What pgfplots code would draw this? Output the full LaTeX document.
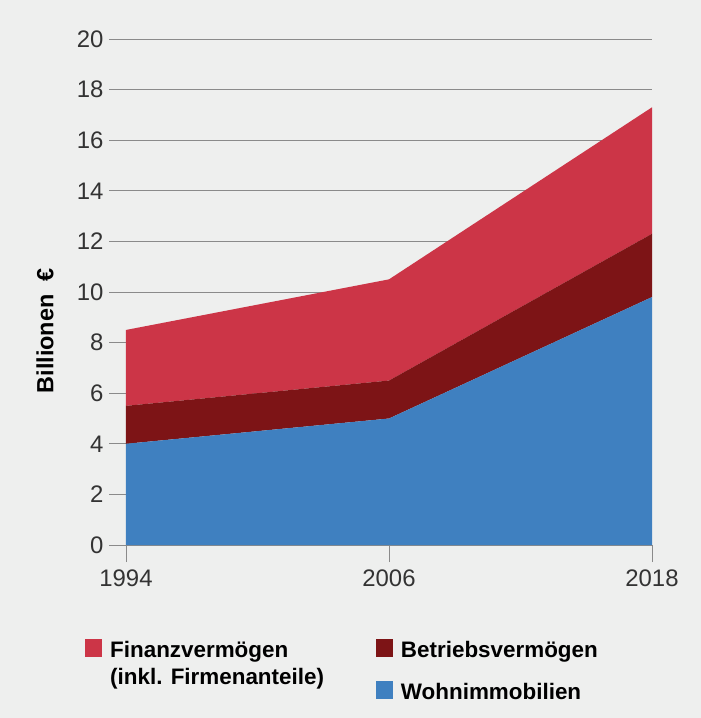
\documentclass[border=0pt]{standalone}
\usepackage{fontspec}
\setmainfont{Liberation Sans}
\usepackage{pgfplots}
\pgfplotsset{compat=1.18}
\definecolor{bg}{HTML}{EEEFEE}
\definecolor{fin}{HTML}{CC3547}
\definecolor{bet}{HTML}{7D1416}
\definecolor{wohn}{HTML}{3F80C0}
\definecolor{gridc}{HTML}{8A8A8A}
\definecolor{txt}{HTML}{333333}
\pgfplotstableread{
year wohn bet fin
1994 4.0 1.5 3.0
2006 5.0 1.5 4.0
2018 9.8 2.5 5.0
}\vermoegen
\begin{document}
\begin{tikzpicture}
\fill[bg] (-126bp,-173bp) rectangle (575bp,545bp);
\begin{axis}[
  at={(0,0)}, anchor=south west,
  scale only axis, width=526bp, height=506bp,
  xmin=1994, xmax=2018, ymin=0, ymax=20,
  xtick={1994,2006,2018}, ytick={0,2,...,20},
  axis line style={draw=none},
  ymajorgrids, grid style={gridc, line width=0.9pt},
  tick style={gridc, line width=0.9pt},
  tick align=outside, major tick length=17bp, tick pos=left,
  /pgf/number format/1000 sep={},
  /pgf/number format/assume math mode=true,
  ticklabel style={font=\fontsize{24}{28}\selectfont, text=txt},
  yticklabel style={xshift=-2bp},
  xticklabel style={yshift=-4bp},
  ylabel={Billionen\ \ €},
  ylabel style={font=\bfseries\fontsize{23.5}{27}\selectfont, text=black, at={(axis description cs:-0.154,0.423)}, anchor=center},
  stack plots=y,
  legend columns=2,
  legend cell align=left,
  legend style={draw=none, fill=none, inner sep=0pt,
    at={(axis description cs:-0.078,-0.1858)}, anchor=north west,
    font=\bfseries\fontsize{22.5}{26}\selectfont, text=black,
    row sep=22bp,
    nodes={inner sep=0pt},
    /tikz/every odd column/.append style={column sep=8bp},
    /tikz/every even column/.append style={column sep=52bp}},
  legend image code/.code={\fill[#1] (0bp,-7bp) rectangle (17bp,11bp);},
]
\addplot[fill=wohn, draw=none, forget plot] table[x=year, y=wohn] {\vermoegen} \closedcycle;
\addplot[fill=bet, draw=none, forget plot] table[x=year, y=bet] {\vermoegen} \closedcycle;
\addplot[fill=fin, draw=none, forget plot] table[x=year, y=fin] {\vermoegen} \closedcycle;
\addlegendimage{fill=fin, draw=none}
\addlegendentry{Finanzvermögen}
\addlegendimage{fill=bet, draw=none}
\addlegendentry{Betriebsvermögen}
\addlegendimage{empty legend}
\addlegendentry{\raisebox{7bp}[0pt][0pt]{(inkl. Firmenanteile)}}
\addlegendimage{fill=wohn, draw=none}
\addlegendentry{Wohnimmobilien}
\end{axis}
\end{tikzpicture}
\end{document}
